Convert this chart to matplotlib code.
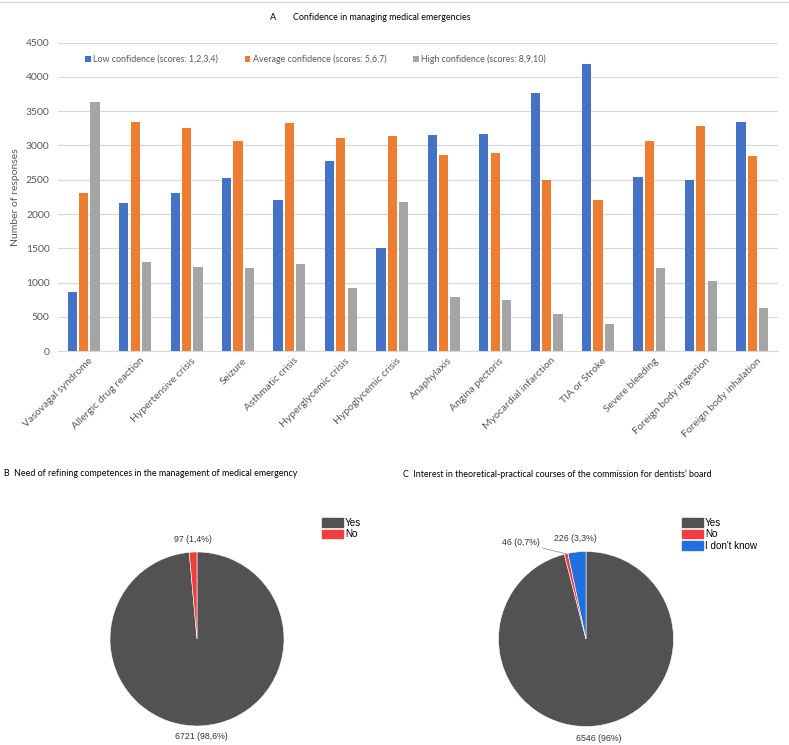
import numpy as np
import matplotlib
matplotlib.use("Agg")
import matplotlib.pyplot as plt
import matplotlib.transforms as mtransforms
from matplotlib.patches import Patch
from matplotlib.lines import Line2D

# --- data ---
emergencies = [
    "Vasovagal syndrome", "Allergic drug reaction", "Hypertensive crisis", "Seizure",
    "Asthmatic crisis", "Hyperglycemic crisis", "Hypoglycemic crisis", "Anaphylaxis",
    "Angina pectoris", "Myocardial infarction", "TIA or Stroke", "Severe bleeding",
    "Foreign body ingestion", "Foreign body inhalation",
]
low_conf = [860, 2160, 2310, 2530, 2200, 2770, 1500, 3160, 3170, 3770, 4190, 2540, 2500, 3340]
avg_conf = [2310, 3340, 3260, 3060, 3330, 3110, 3140, 2860, 2890, 2500, 2210, 3060, 3290, 2840]
high_conf = [3640, 1300, 1230, 1210, 1270, 920, 2170, 790, 745, 545, 400, 1210, 1020, 625]
series_names = ["Low confidence (scores: 1,2,3,4)",
                "Average confidence (scores: 5,6,7)",
                "High confidence (scores: 8,9,10)"]

refine_labels = ["Yes", "No"]
refine_counts = [6721, 97]

course_labels = ["Yes", "No", "I don't know"]
course_counts = [6546, 46, 226]

bar_colors = ["#4472C4", "#ED7D31", "#A5A5A5"]
pie_colors = ["#525252", "#F23D3D", "#1F6FE0"]
txt_gray = "#595959"

W, H = 789, 745
fig = plt.figure(figsize=(W / 100, H / 100), dpi=100)

def fx(px):
    return px / W

def fy(py):
    return 1 - py / H

# thin frame line at top
fig.add_artist(Line2D([0, 1], [fy(2), fy(2)], color="#d9d9d9", lw=1))

# --- A: grouped bar chart ---
ax = fig.add_axes([fx(58), fy(351.3), fx(778) - fx(58), fy(42.6) - fy(351.3)])
x = np.arange(len(emergencies))
width = 0.18
step = 0.22
for i, (vals, col, name) in enumerate(zip([low_conf, avg_conf, high_conf], bar_colors, series_names)):
    ax.bar(x + (i - 1) * step, vals, width, color=col, label=name, zorder=3)

ax.set_xlim(-0.5, len(emergencies) - 0.5)
ax.set_ylim(0, 4500)
ax.set_yticks(np.arange(0, 4501, 500))
ax.yaxis.grid(True, color="#d9d9d9", lw=0.9, zorder=0)
for s in ["top", "right", "left"]:
    ax.spines[s].set_visible(False)
ax.spines["bottom"].set_color("#d9d9d9")
ax.tick_params(axis="both", length=0, colors=txt_gray, labelsize=7.5)
ax.set_xticks(x)
ax.set_xticklabels(emergencies, rotation=45, ha="right", rotation_mode="anchor", family="Lato")
shift = mtransforms.ScaledTranslation(4 / 100, 0, fig.dpi_scale_trans)
for lab in ax.get_xticklabels():
    lab.set_transform(lab.get_transform() + shift)
for lab in ax.get_yticklabels():
    lab.set_family("Lato")
ax.tick_params(axis="y", pad=6)
fig.text(fx(16), fy(197), "Number of responses", rotation=90, ha="center", va="center",
         color=txt_gray, fontsize=7.5, family="Lato")
leg = ax.legend(loc="upper left", bbox_to_anchor=(0.027, 0.988), ncol=3, frameon=False,
                handlelength=0.6, handleheight=0.6, handletextpad=0.3,
                columnspacing=3.0, prop={"family": "Lato", "size": 6.4})
for t in leg.get_texts():
    t.set_color(txt_gray)

fig.text(fx(270), fy(18), "A", fontsize=6.6, family="Lato", va="center")
fig.text(fx(293), fy(18), "Confidence in managing medical emergencies", fontsize=6.4,
         family="Lato", va="center")

# --- pies ---
def pct_text(n, total):
    p = round(100 * n / total, 1)
    s = ("%.1f" % p).rstrip("0").rstrip(".")
    return "%d (%s%%)" % (n, s.replace(".", ","))

def draw_pie(cx, cy, r, counts, colors):
    a = fig.add_axes([fx(cx - r), fy(cy + r), fx(2 * r), fy(0) - fy(2 * r)])
    a.pie(counts, colors=colors, startangle=90, counterclock=False, radius=1,
          wedgeprops=dict(edgecolor="white", linewidth=0.4))
    a.set_xlim(-1, 1)
    a.set_ylim(-1, 1)
    a.set_aspect("equal")
    a.axis("off")
    total = sum(counts)
    mids = []
    start = 90.0
    for n in counts:
        sweep = 360.0 * n / total
        mids.append(np.deg2rad(start - sweep / 2))
        start -= sweep
    return a, total, mids

pie_font = dict(family="Liberation Sans", fontsize=6.3, color="#333333")
leg_prop = {"family": "Liberation Sans", "size": 7.1}

# B
axb, tot_b, mids_b = draw_pie(197, 639, 87, refine_counts, pie_colors[:2])
for n, m, rr in zip(refine_counts, mids_b, [1.12, 1.15]):
    axb.text(rr * np.cos(m), rr * np.sin(m), pct_text(n, tot_b), ha="center", va="center",
             clip_on=False, **pie_font)
fig.text(fx(4), fy(474), "B  Need of refining competences in the management of medical emergency",
         fontsize=6.4, family="Lato", va="center")
fig.legend(handles=[Patch(color=c, label=l) for c, l in zip(pie_colors, refine_labels)],
           loc="upper left", bbox_to_anchor=(fx(319), fy(515)), frameon=False,
           prop=leg_prop, handlelength=2.1, handleheight=0.9,
           handletextpad=0.25, labelspacing=0.15, borderaxespad=0, borderpad=0.3)

# C
axc, tot_c, mids_c = draw_pie(586, 639, 87.5, course_counts, pie_colors)
axc.text(1.15 * np.cos(mids_c[0]), 1.15 * np.sin(mids_c[0]), pct_text(course_counts[0], tot_c),
         ha="center", va="center", clip_on=False, **pie_font)
axc.text(1.16 * np.cos(mids_c[2]), 1.16 * np.sin(mids_c[2]), pct_text(course_counts[2], tot_c),
         ha="center", va="center", clip_on=False, **pie_font)
axc.annotate(pct_text(course_counts[1], tot_c),
             xy=(np.cos(mids_c[1]), np.sin(mids_c[1])), xytext=(-0.53, 1.10),
             ha="right", va="center", annotation_clip=False,
             arrowprops=dict(arrowstyle="-", color="#999999", lw=0.6, shrinkA=0, shrinkB=0),
             **pie_font)
fig.text(fx(403), fy(474), "C  Interest in theoretical-practical courses of the commission for dentists\u2019 board",
         fontsize=6.4, family="Lato", va="center")
fig.legend(handles=[Patch(color=c, label=l) for c, l in zip(pie_colors, course_labels)],
           loc="upper left", bbox_to_anchor=(fx(679), fy(515)), frameon=False,
           prop=leg_prop, handlelength=2.1, handleheight=0.9,
           handletextpad=0.25, labelspacing=0.15, borderaxespad=0, borderpad=0.3)

fig.savefig("out.png", dpi=100, facecolor="white")
